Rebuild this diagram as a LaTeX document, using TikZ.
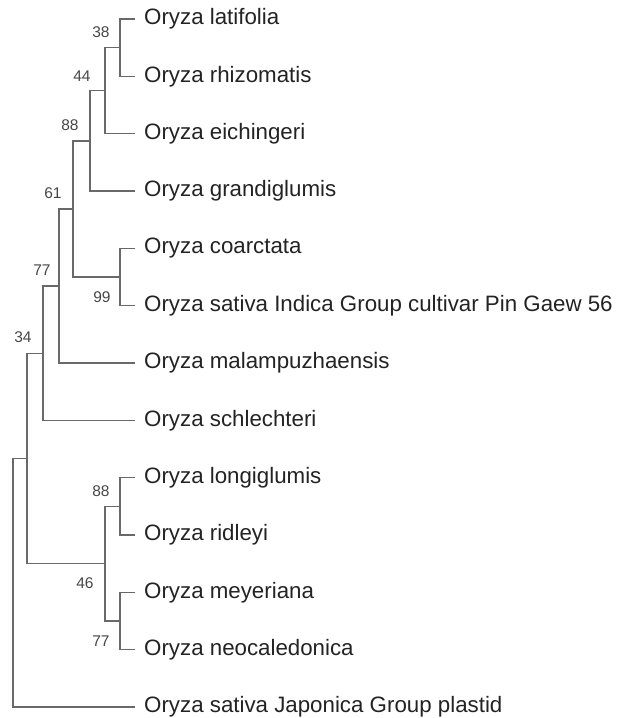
\documentclass[tikz,border=0pt]{standalone}
\usepackage{fontspec}
\setmainfont{Liberation Sans}
\usetikzlibrary{positioning}
\definecolor{branchgray}{RGB}{105,105,105}
\definecolor{taxonblack}{RGB}{35,35,35}
\definecolor{bootgray}{RGB}{70,70,70}

\begin{document}
\begin{tikzpicture}[x=1pt,y=-1pt,
    branch/.style={draw=branchgray,line width=1.4pt},
    taxon/.style={anchor=west,inner xsep=9pt,inner ysep=0pt,text=taxonblack,font=\fontsize{22.3}{25}\selectfont},
    boot/.style={text=bootgray,inner sep=0pt,font=\fontsize{15.5}{17}\selectfont}]
        \useasboundingbox (0,0) rectangle (619,718);
        % taxa
        \node[taxon] (lat) at (135,19) {Oryza latifolia};
        \node[taxon] (rhi) at (135,76.3) {Oryza rhizomatis};
        \node[taxon] (eic) at (135,133.7) {Oryza eichingeri};
        \node[taxon] (gra) at (135,191) {Oryza grandiglumis};
        \node[taxon] (coa) at (135,248.3) {Oryza coarctata};
        \node[taxon] (ind) at (135,305.7) {Oryza sativa Indica Group cultivar Pin Gaew 56};
        \node[taxon] (mal) at (135,363) {Oryza malampuzhaensis};
        \node[taxon] (sch) at (135,420.3) {Oryza schlechteri};
        \node[taxon] (lon) at (135,477.7) {Oryza longiglumis};
        \node[taxon] (rid) at (135,535) {Oryza ridleyi};
        \node[taxon] (mey) at (135,592.3) {Oryza meyeriana};
        \node[taxon] (neo) at (135,649.7) {Oryza neocaledonica};
        \node[taxon] (jap) at (135,707) {Oryza sativa Japonica Group plastid};
        % internal nodes
        \coordinate (n38) at (120,47.7);
        \coordinate (n44) at (105,90.7);
        \coordinate (n88a) at (90,140.8);
        \coordinate (n99) at (120,277);
        \coordinate (n61) at (73,208.9);
        \coordinate (n77a) at (59,286);
        \coordinate (n34) at (43,353.2);
        \coordinate (n88b) at (120,506.3);
        \coordinate (n77b) at (120,621);
        \coordinate (n46) at (105,563.7);
        \coordinate (nin) at (27,458.4);
        \coordinate (root) at (13,582.7);
        % branches
        \draw[branch] (lat.west) -| (n38) |- (rhi.west);
        \draw[branch] (n38) -| (n44) |- (eic.west);
        \draw[branch] (n44) -| (n88a) |- (gra.west);
        \draw[branch] (coa.west) -| (n99) |- (ind.west);
        \draw[branch] (n88a) -| (n61) |- (n99);
        \draw[branch] (n61) -| (n77a) |- (mal.west);
        \draw[branch] (n77a) -| (n34) |- (sch.west);
        \draw[branch] (lon.west) -| (n88b) |- (rid.west);
        \draw[branch] (mey.west) -| (n77b) |- (neo.west);
        \draw[branch] (n88b) -| (n46) |- (n77b);
        \draw[branch] (n34) -| (nin) |- (n46);
        \draw[branch] (nin) -| (root) |- (jap.west);
        % bootstrap values
        \node[boot] (b38) at (101,32) {38};
        \node[boot] (b44) at (82,76) {44};
        \node[boot] (b88a) at (70,125) {88};
        \node[boot] (b61) at (53,193) {61};
        \node[boot] (b77a) at (42,270) {77};
        \node[boot] (b99) at (102,297) {99};
        \node[boot] (b34) at (23,337) {34};
        \node[boot] (b88b) at (101,491) {88};
        \node[boot] (b46) at (85,583) {46};
        \node[boot] (b77b) at (101,641) {77};
    \end{tikzpicture}
\end{document}
